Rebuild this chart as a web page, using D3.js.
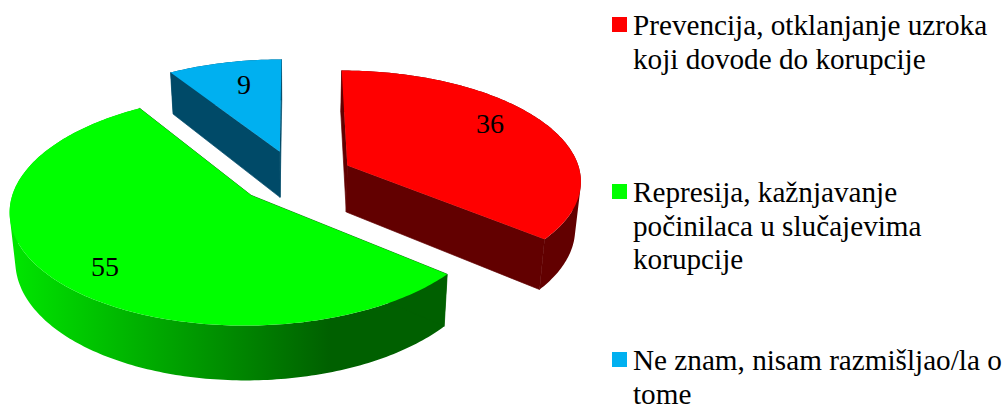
<!DOCTYPE html>
<html><head><meta charset="utf-8">
<script src="https://cdn.jsdelivr.net/npm/d3@7/dist/d3.min.js"></script>
<style>html,body{margin:0;padding:0;background:#fff;overflow:hidden}svg{display:block}
text{font-family:"Liberation Serif","Times New Roman",serif;fill:#000}</style>
</head><body><svg id="c" width="1006" height="406"></svg>
<script>
const categories=["Prevencija, otklanjanje uzroka|koji dovode do korupcije","Represija, kažnjavanje|počinilaca u slučajevima|korupcije","Ne znam, nisam razmišljao/la o|tome"];
const values=[36,55,9];
const topColors=["#ff0000","#00ff00","#00b0f0"];
const wallColors=["#620000","url(#gw)","#004a68"];
const faceColors=["#620000","#006000","#004a68"];

const svg=d3.select("#c");
const X0=295.5,Y0=177,R=234,EXPL=58,K=0.4675,A=0.000525,DEPTH=47,SHRINK=0.98,FS=29.2;
const grad=svg.append("defs").append("linearGradient").attr("id","gw").attr("gradientUnits","userSpaceOnUse")
  .attr("x1",12).attr("x2",330).attr("y1",0).attr("y2",0);
grad.append("stop").attr("offset",0).attr("stop-color","#00e600");
grad.append("stop").attr("offset",1).attr("stop-color","#006000");

const project=(u,v,down)=>{
  const w=1/(1-A*v);
  const x=X0+u*w, y=Y0+K*v*w;
  return down?[X0+(x-X0)*SHRINK,y+DEPTH*w]:[x,y];
};
const line=d3.line();
const arcs=d3.pie().sort(null).value(d=>d)(values);
const g=svg.append("g");
[2,0,1].forEach(i=>{
  const a=arcs[i], mid=(a.startAngle+a.endAngle)/2;
  const cu=EXPL*Math.sin(mid), cv=-EXPL*Math.cos(mid);
  const n=Math.ceil((a.endAngle-a.startAngle)*60);
  const th=d3.range(n+1).map(j=>a.startAngle+(a.endAngle-a.startAngle)*j/n);
  const rim=down=>th.map(t=>project(cu+R*Math.sin(t),cv-R*Math.cos(t),down));
  const apex=down=>project(cu,cv,down);
  const top=rim(false), bot=rim(true);
  // outer wall: one compound path of same-oriented quads, so there are no seams and the silhouette stays tangent
  const quads=d3.range(n).map(k=>{
    const q=[top[k],top[k+1],bot[k+1],bot[k]];
    if(d3.polygonArea(q)<0) q.reverse();
    return line(q)+"Z";
  }).join("");
  g.append("path").attr("d",quads).attr("fill",wallColors[i]);
  // radial faces, stroked lightly to close the seam with the wall
  [0,n].forEach(k=>g.append("path").attr("d",line([apex(false),top[k],bot[k],apex(true)])+"Z")
    .attr("fill",faceColors[i]).attr("stroke",faceColors[i]).attr("stroke-width",0.7));
  // top surface
  g.append("path").attr("d",line([apex(false),...top])+"Z").attr("fill",topColors[i]);
});
// value labels
const labelSpots=[[490,133],[105,276],[244,94]];
values.forEach((v,i)=>{
  svg.append("text").attr("x",labelSpots[i][0]).attr("y",labelSpots[i][1]).attr("text-anchor","middle")
    .attr("font-size",28).text(v);
});
// legend
const legendBase=[35,202,370], lh=33.6;
categories.forEach((c,i)=>{
  svg.append("rect").attr("x",612).attr("y",legendBase[i]-18).attr("width",15).attr("height",15).attr("fill",topColors[i]);
  c.split("|").forEach((t,j)=>{
    svg.append("text").attr("x",633).attr("y",legendBase[i]+j*lh).attr("font-size",FS).text(t);
  });
});
</script></body></html>
